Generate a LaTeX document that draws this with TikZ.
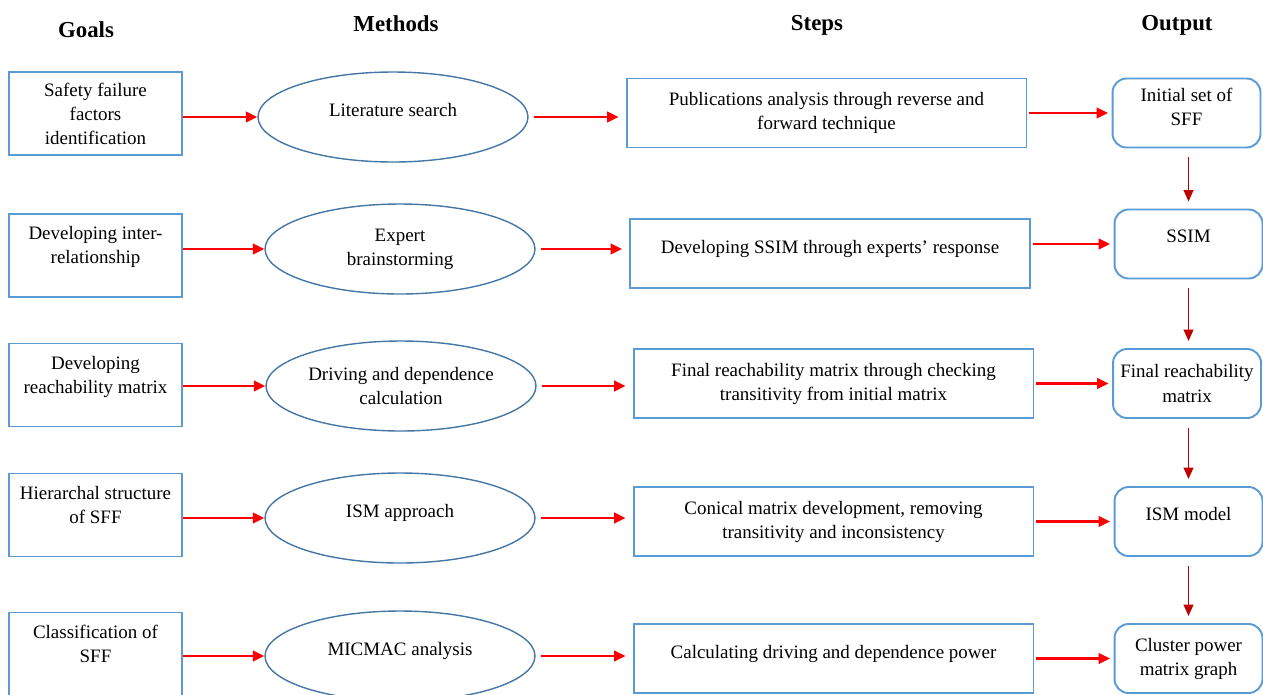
\documentclass[tikz,border=0pt]{standalone}
\usepackage{fontspec}
\setmainfont{Liberation Serif}
\usepackage{tikz}
\usetikzlibrary{shapes.geometric,arrows.meta}

\definecolor{boxblue}{RGB}{91,155,213}
\definecolor{ellblue}{RGB}{70,118,165}
\definecolor{flowred}{RGB}{255,0,0}
\definecolor{downred}{RGB}{192,0,0}

\tikzset{
  body/.style={font=\fontsize{10.8pt}{13.7pt}\selectfont, align=center},
  head/.style={font=\fontsize{13pt}{15pt}\selectfont\bfseries},
  goal/.style={body, draw=boxblue, line width=1.1pt, minimum width=3.46cm, minimum height=1.66cm, inner sep=0pt},
  method/.style={body, ellipse, draw=ellblue, line width=0.8pt, minimum width=5.4cm, minimum height=1.8cm, inner sep=0pt},
  stepbox/.style={body, draw=boxblue, line width=1.1pt, minimum width=8cm, minimum height=1.38cm, inner sep=0pt},
  outbox/.style={body, draw=boxblue, line width=1.1pt, rounded corners=0.28cm, minimum width=2.96cm, minimum height=1.38cm, inner sep=0pt},
  lifted/.style={text depth=#1},
  flow/.style={flowred, line width=1.3pt, -{Triangle[length=6.5pt,width=6pt]}},
  vflow/.style={downred, line width=1pt, -{Triangle[length=6.5pt,width=5.5pt]}, shorten <=0.18cm, shorten >=0.14cm}
}

\begin{document}
\begin{tikzpicture}[x=0.02cm, y=-0.02cm]
    \useasboundingbox (0,0) rectangle (1263,694);

    % Column headers
    \node[head] (hgoal) at (86,30) {Goals};
    \node[head] (hmeth) at (396,24) {Methods};
    \node[head] (hstep) at (817,25) {Steps};
    \node[head] (hout) at (1177,25) {Output};

    % Goals
    \node[goal] (g1) at (95.5,113.5) {Safety failure\\factors\\identification};
    \node[goal, lifted=0.42cm] (g2) at (95.5,255.5) {Developing inter-\\relationship};
    \node[goal, lifted=0.42cm] (g3) at (95.5,385) {Developing\\reachability matrix};
    \node[goal, lifted=0.42cm] (g4) at (95.5,515) {Hierarchal structure\\of SFF};
    \node[goal, lifted=0.42cm] (g5) at (95.5,654) {Classification of\\SFF};

    % Methods
    \node[method, lifted=0.28cm] (m1) at (393,117) {Literature search};
    \node[method] (m2) at (400,249) {Expert\\brainstorming};
    \node[method] (m3) at (401,386) {Driving and dependence\\calculation};
    \node[method, lifted=0.28cm] (m4) at (400,518) {ISM approach};
    \node[method, lifted=0.28cm] (m5) at (400,656) {MICMAC analysis};

    % Steps
    \node[stepbox] (s1) at (826.5,113) {Publications analysis through reverse and\\forward technique};
    \node[stepbox, lifted=0.26cm] (s2) at (830,253.5) {Developing SSIM through experts’ response};
    \node[stepbox] (s3) at (833.5,383.5) {Final reachability matrix through checking\\transitivity from initial matrix};
    \node[stepbox] (s4) at (833.5,521.5) {Conical matrix development, removing\\transitivity and inconsistency};
    \node[stepbox, lifted=0.26cm] (s5) at (833.5,658.5) {Calculating driving and dependence power};

    % Output
    \node[outbox, lifted=0.24cm] (o1) at (1186.5,113) {Initial set of\\SFF};
    \node[outbox, lifted=0.3cm] (o2) at (1188.5,244) {SSIM};
    \node[outbox] (o3) at (1187,383.5) {Final reachability\\matrix};
    \node[outbox, lifted=0.3cm] (o4) at (1188.5,521.5) {ISM model};
    \node[outbox] (o5) at (1188.5,658.5) {Cluster power\\matrix graph};

    % Goals to methods
    \draw[flow] (g1.east |- m1.center) -- (m1.west);
    \draw[flow] (g2.east |- m2.center) -- (m2.west);
    \draw[flow] (g3.east |- m3.center) -- (m3.west);
    \draw[flow] (g4.east |- m4.center) -- (m4.west);
    \draw[flow] (g5.east |- m5.center) -- (m5.west);

    % Methods to steps
    \draw[flow, shorten <=3pt, shorten >=4pt] (m1.east) -- (m1.east -| s1.west);
    \draw[flow, shorten <=3pt, shorten >=4pt] (m2.east) -- (m2.east -| s2.west);
    \draw[flow, shorten <=3pt, shorten >=4pt] (m3.east) -- (m3.east -| s3.west);
    \draw[flow, shorten <=3pt, shorten >=4pt] (m4.east) -- (m4.east -| s4.west);
    \draw[flow, shorten <=3pt, shorten >=4pt] (m5.east) -- (m5.east -| s5.west);

    % Steps to output
    \draw[flow, shorten <=1pt, shorten >=2pt] (s1.east |- o1.center) -- (o1.center -| o1.west);
    \draw[flow, shorten <=1pt, shorten >=2pt] (s2.east |- o2.center) -- (o2.center -| o2.west);
    \draw[flow, shorten <=1pt, shorten >=2pt] (s3.east |- o3.center) -- (o3.center -| o3.west);
    \draw[flow, shorten <=1pt, shorten >=2pt] (s4.east |- o4.center) -- (o4.center -| o4.west);
    \draw[flow, shorten <=1pt, shorten >=2pt] (s5.east |- o5.center) -- (o5.center -| o5.west);

    % Output chain
    \draw[vflow] (o1.south -| o2.north) -- (o2.north);
    \draw[vflow] (o2.south) -- (o2.south |- o3.north);
    \draw[vflow] (o3.south -| o4.north) -- (o4.north);
    \draw[vflow] (o4.south) -- (o5.north);
\end{tikzpicture}
\end{document}
